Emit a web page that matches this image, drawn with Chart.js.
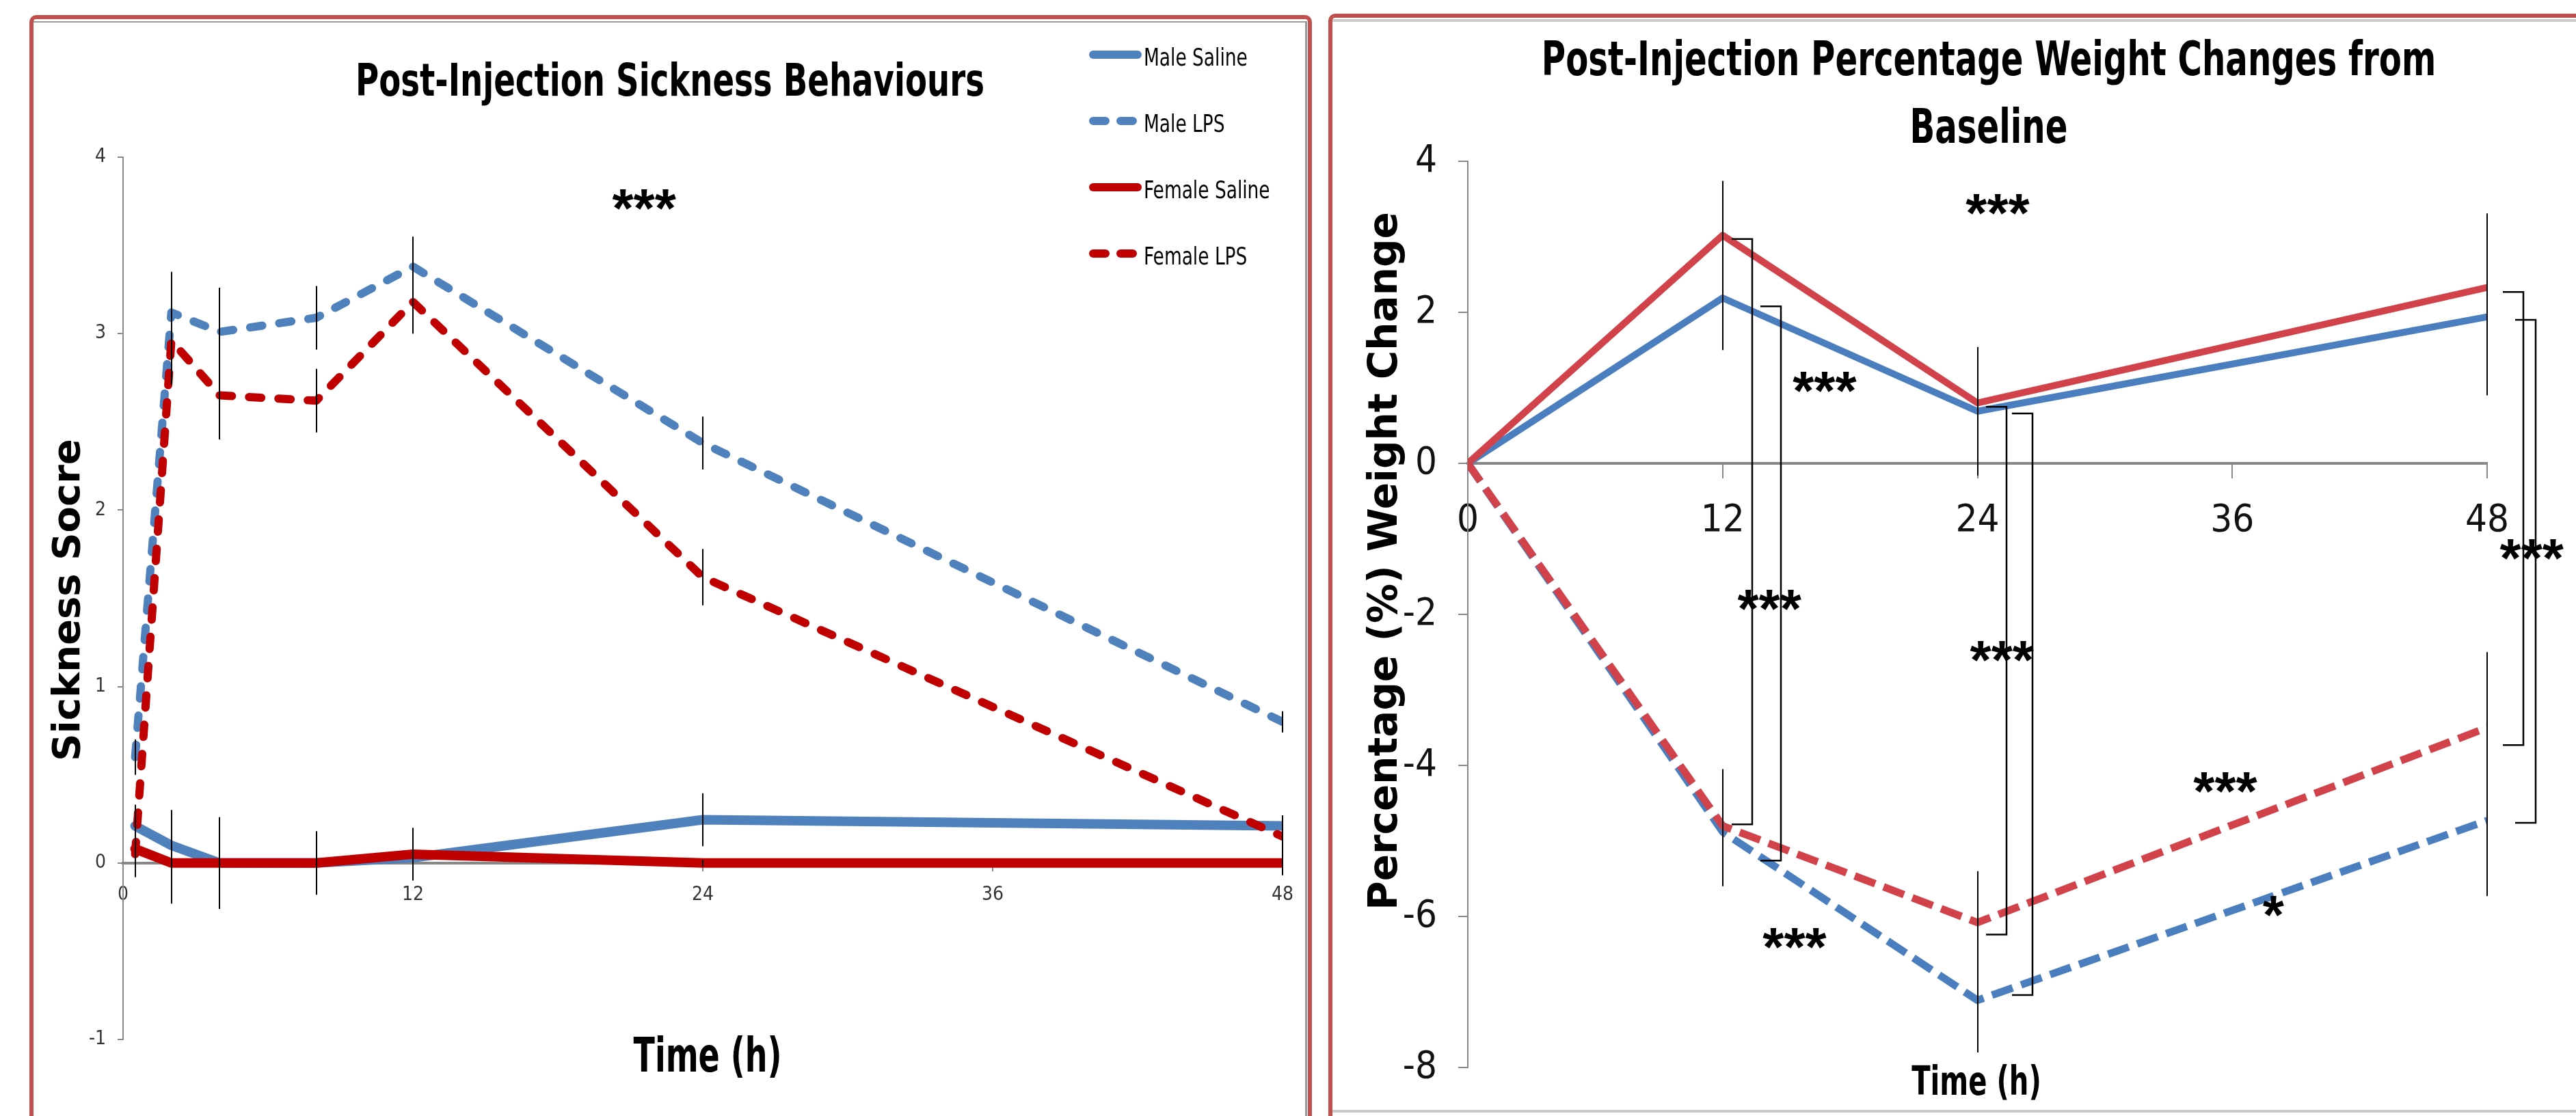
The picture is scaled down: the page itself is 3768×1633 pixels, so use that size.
<!DOCTYPE html>
<html>
<head>
<meta charset="utf-8">
<script src="https://cdn.jsdelivr.net/npm/chart.js@4.4.1/dist/chart.umd.min.js"></script>
<style>
  html, body { margin: 0; padding: 0; background: #fff; }
  body { width: 3768px; height: 1633px; position: relative; overflow: hidden; }
  .marco { position: absolute; box-sizing: border-box; border: 6px solid #c0504d; border-radius: 10px; }
  .linea { position: absolute; background: #9a9a9a; }
  .linea.claro { background: #cacaca; }
  canvas { position: absolute; top: 0; }
</style>
</head>
<body>
<div class="marco" style="left:43px;top:22px;width:1876px;height:1700px"></div>
<div class="linea" style="left:49px;top:31px;width:1862px;height:2px"></div>
<div class="linea" style="left:1909px;top:31px;width:3px;height:1602px"></div>
<div class="marco" style="left:1943px;top:20px;width:1900px;height:1700px"></div>
<div class="linea claro" style="left:1949px;top:28px;width:1819px;height:4px"></div>
<div class="linea claro" style="left:1949px;top:1624px;width:1819px;height:4px"></div>
<canvas id="grafico-sickness" width="1930" height="1633" style="left:0"></canvas>
<canvas id="grafico-peso" width="1838" height="1633" style="left:1930px"></canvas>
<script>
// --- Panel 1: Sickness score (horas tras la inyección) ---
const HORAS_SICK = [0.5, 2, 4, 8, 12, 24, 48];
const MALE_SALINE_SICK = [0.21, 0.10, 0, 0, 0.03, 0.245, 0.21];
const MALE_SALINE_SICK_ERR = [0.12, 0.20, 0.25, 0.17, 0.10, 0.15, 0.06];
const MALE_LPS_SICK = [0.60, 3.12, 3.01, 3.09, 3.38, 2.38, 0.80];
const MALE_LPS_SICK_ERR = [0.10, 0.23, 0.25, 0.18, 0.17, 0.15, 0.06];
const FEMALE_SALINE_SICK = [0.08, 0, 0, 0, 0.05, 0, 0];
const FEMALE_SALINE_SICK_ERR = [0.16, 0.23, 0.26, 0.18, 0.15, 0.02, 0.07];
const FEMALE_LPS_SICK = [0.05, 2.96, 2.65, 2.62, 3.18, 1.62, 0.15];
const FEMALE_LPS_SICK_ERR = [0.10, 0.25, 0.25, 0.18, 0.18, 0.16, 0.10];
const SICK_TICKS_X = [0, 12, 24, 36, 48];
const SICK_STARS = { texto: '***', hora: 21.57, valor: 3.76 };

// --- Panel 2: % cambio de peso ---
const HORAS_PESO = [0, 12, 24, 48];
const MALE_SALINE_W = [0, 2.19, 0.69, 1.94];
const MALE_SALINE_W_ERR = [0, 0.69, 0.85, 1.04];
const FEMALE_SALINE_W = [0, 3.02, 0.80, 2.33];
const FEMALE_SALINE_W_ERR = [0, 0.72, 0.70, 0.98];
const MALE_LPS_W = [0, -4.88, -7.11, -4.73];
const MALE_LPS_W_ERR = [0, 0.72, 0.69, 1.00];
const FEMALE_LPS_W = [0, -4.80, -6.08, -3.50];
const FEMALE_LPS_W_ERR = [0, 0.75, 0.68, 1.00];
const PESO_TICKS_X = [0, 12, 24, 36, 48];

// Corchetes de significancia (hora, valor arriba, valor abajo)
const CORCHETE_HORA = [13.39, 14.75, 25.36, 26.6, 49.7, 50.3];
const CORCHETE_ARRIBA = [2.97, 2.08, 0.75, 0.66, 2.27, 1.90];
const CORCHETE_ABAJO = [-4.78, -5.26, -6.24, -7.04, -3.73, -4.76];

// Asteriscos del panel de peso
const ESTRELLA_TEXTO = ['***', '***', '***', '***', '***', '***', '*', '***'];
const ESTRELLA_HORA = [24.95, 16.8, 14.2, 25.15, 35.67, 15.39, 37.93, 50.1];
const ESTRELLA_VALOR = [3.43, 1.08, -1.81, -2.49, -4.23, -6.29, -5.86, -1.14];

const NARROW = "'Liberation Sans Narrow', 'Arial Narrow', 'DejaVu Sans Condensed', sans-serif";
const WIDE = "'DejaVu Sans', Verdana, sans-serif";
const STAR = "'Liberation Sans', Arial, sans-serif";

const COLORES = {
    azul: '#4f81bd',
    rojo: '#c00000',
    azulPeso: '#4a7ebf',
    rojoPeso: '#d2424a',
    eje: '#888888',
};

function puntos(horas, valores) {
    return horas.map((h, i) => ({ x: h, y: valores[i] }));
}

function serie(label, horas, valores, errores, color, ancho, guiones, orden, remate = 'round') {
    return {
        label,
        data: puntos(horas, valores),
        errores,
        borderColor: color,
        backgroundColor: color,
        borderWidth: ancho,
        borderDash: guiones,
        borderCapStyle: remate,
        borderJoinStyle: 'round',
        pointRadius: 0,
        pointHoverRadius: 0,
        tension: 0,
        fill: false,
        order: orden,
    };
}

/** Texto centrado en su caja de tinta. */
function textoCentrado(ctx, texto, x, y, font) {
    ctx.font = font;
    ctx.textAlign = 'center';
    ctx.textBaseline = 'alphabetic';
    const m = ctx.measureText(texto);
    ctx.fillText(texto, x, y + (m.actualBoundingBoxAscent - m.actualBoundingBoxDescent) / 2);
}

/** Texto con compresión horizontal (imita la tipografía estrecha del original). */
function textoEscalado(ctx, texto, x, y, font, escalaX, align = 'center') {
    ctx.save();
    ctx.translate(x, y);
    ctx.scale(escalaX, 1);
    ctx.font = font;
    ctx.textAlign = align;
    ctx.textBaseline = 'alphabetic';
    ctx.fillText(texto, 0, 0);
    ctx.restore();
}

function textoVertical(ctx, texto, x, y, font) {
    ctx.save();
    ctx.translate(x, y);
    ctx.rotate(-Math.PI / 2);
    ctx.font = font;
    ctx.textAlign = 'center';
    ctx.textBaseline = 'alphabetic';
    ctx.fillText(texto, 0, 0);
    ctx.restore();
}

// Barras de error negras, dibujadas encima de las líneas.
const barrasError = {
    id: 'barrasError',
    afterDatasetsDraw(chart) {
        const { ctx } = chart;
        const y = chart.scales.y;
        ctx.save();
        ctx.strokeStyle = '#000';
        ctx.lineWidth = 2;
        chart.data.datasets.forEach((ds, i) => {
            if (!ds.errores) return;
            chart.getDatasetMeta(i).data.forEach((pt, j) => {
                const err = ds.errores[j];
                if (!err) return;
                const v = ds.data[j].y;
                const x = Math.round(pt.x);
                ctx.beginPath();
                ctx.moveTo(x, y.getPixelForValue(v + err));
                ctx.lineTo(x, y.getPixelForValue(v - err));
                ctx.stroke();
            });
        });
        ctx.restore();
    },
};

function ejeY(min, max, paso, fontSize, tickLen, pad, color) {
    return {
        type: 'linear',
        position: 'left',
        min,
        max,
        afterFit: (s) => { s.width = 100; },
        ticks: { stepSize: paso, color, padding: pad, font: { family: NARROW, size: fontSize } },
        grid: { drawOnChartArea: false, drawTicks: true, tickLength: tickLen, color: COLORES.eje, lineWidth: 2 },
        border: { display: true, color: COLORES.eje, width: 2 },
    };
}

function ejeX(ticksX, fontSize, tickLen, pad, color) {
    return {
        type: 'linear',
        position: { y: 0 },
        min: ticksX[0],
        max: ticksX[ticksX.length - 1],
        afterBuildTicks: (s) => { s.ticks = ticksX.map((v) => ({ value: v })); },
        ticks: { color, padding: pad, maxRotation: 0, font: { family: NARROW, size: fontSize } },
        grid: { drawOnChartArea: false, drawTicks: true, tickLength: tickLen, color: COLORES.eje, lineWidth: 2 },
        border: { display: true, color: COLORES.eje, width: 4 },
    };
}

const BASE = {
    responsive: false,
    animation: false,
    devicePixelRatio: 1,
    plugins: { legend: { display: false }, tooltip: { enabled: false }, title: { display: false } },
};

// 1. Post-Injection Sickness Behaviours
const sickDatasets = [
    serie('Male Saline', HORAS_SICK, MALE_SALINE_SICK, MALE_SALINE_SICK_ERR, COLORES.azul, 14, [], 3),
    serie('Male LPS', HORAS_SICK, MALE_LPS_SICK, MALE_LPS_SICK_ERR, COLORES.azul, 12, [18, 25], 2),
    serie('Female Saline', HORAS_SICK, FEMALE_SALINE_SICK, FEMALE_SALINE_SICK_ERR, COLORES.rojo, 14, [], 1),
    serie('Female LPS', HORAS_SICK, FEMALE_LPS_SICK, FEMALE_LPS_SICK_ERR, COLORES.rojo, 12, [18, 25], 0),
];

const textosSick = {
    id: 'textosSick',
    afterDraw(chart) {
        const { ctx } = chart;
        ctx.save();
        ctx.fillStyle = '#000';
        textoEscalado(ctx, 'Post-Injection Sickness Behaviours', 980, 140, `bold 66px ${NARROW}`, 0.785);
        textoEscalado(ctx, 'Time (h)', 1035, 1568, `bold 70px ${NARROW}`, 0.73);
        textoVertical(ctx, 'Sickness Socre', 116, 878, `bold 56px ${WIDE}`);
        const sx = chart.scales.x.getPixelForValue(SICK_STARS.hora);
        const sy = chart.scales.y.getPixelForValue(SICK_STARS.valor);
        textoCentrado(ctx, SICK_STARS.texto, sx, sy, `bold 80px ${STAR}`);

        // Leyenda vertical en la esquina superior derecha
        chart.data.datasets.forEach((ds, k) => {
            const y = 80 + k * 97;
            ctx.strokeStyle = ds.borderColor;
            ctx.lineWidth = 12;
            ctx.lineCap = 'round';
            const rayado = ds.borderDash.length > 0;
            ctx.setLineDash(rayado ? [18, 22] : []);
            ctx.beginPath();
            ctx.moveTo(1599, y);
            ctx.lineTo(rayado ? 1657 : 1664, y);
            ctx.stroke();
            ctx.setLineDash([]);
            ctx.fillStyle = '#000';
            textoEscalado(ctx, ds.label, 1673, y + 16, `35px ${NARROW}`, 0.84, 'left');
        });
        ctx.restore();
    },
};

new Chart(document.getElementById('grafico-sickness').getContext('2d'), {
    type: 'line',
    data: { datasets: sickDatasets },
    options: {
        ...BASE,
        layout: { padding: { left: 80, right: 54, top: 230, bottom: 112 } },
        scales: {
            x: ejeX(SICK_TICKS_X, 28, 10, 20, '#333'),
            y: ejeY(-1, 4, 1, 28, 8, 17, '#333'),
        },
    },
    plugins: [barrasError, textosSick],
});

// 2. Post-Injection Percentage Weight Changes from Baseline
const pesoDatasets = [
    serie('Male Saline', HORAS_PESO, MALE_SALINE_W, MALE_SALINE_W_ERR, COLORES.azulPeso, 10, [], 3),
    serie('Female Saline', HORAS_PESO, FEMALE_SALINE_W, FEMALE_SALINE_W_ERR, COLORES.rojoPeso, 10, [], 2),
    serie('Male LPS', HORAS_PESO, MALE_LPS_W, MALE_LPS_W_ERR, COLORES.azulPeso, 11, [32, 13], 1, 'butt'),
    serie('Female LPS', HORAS_PESO, FEMALE_LPS_W, FEMALE_LPS_W_ERR, COLORES.rojoPeso, 11, [32, 13], 0, 'butt'),
];

const textosPeso = {
    id: 'textosPeso',
    afterDraw(chart) {
        const { ctx } = chart;
        const { x, y } = chart.scales;
        ctx.save();
        ctx.fillStyle = '#000';
        textoEscalado(ctx, 'Post-Injection Percentage Weight Changes from', 979, 110, `bold 70px ${NARROW}`, 0.766);
        textoEscalado(ctx, 'Baseline', 979, 209, `bold 70px ${NARROW}`, 0.766);
        textoEscalado(ctx, 'Time (h)', 961, 1602, `bold 58px ${NARROW}`, 0.77);
        textoVertical(ctx, 'Percentage (%) Weight Change', 113, 821, `bold 58px ${WIDE}`);

        // Corchetes "]" entre grupos
        ctx.strokeStyle = '#000';
        ctx.lineWidth = 2.5;
        CORCHETE_HORA.forEach((h, i) => {
            const bx = Math.round(x.getPixelForValue(h));
            const top = y.getPixelForValue(CORCHETE_ARRIBA[i]);
            const bot = y.getPixelForValue(CORCHETE_ABAJO[i]);
            ctx.beginPath();
            ctx.moveTo(bx - 30, top);
            ctx.lineTo(bx, top);
            ctx.lineTo(bx, bot);
            ctx.lineTo(bx - 30, bot);
            ctx.stroke();
        });

        ESTRELLA_TEXTO.forEach((t, i) => {
            textoCentrado(ctx, t, x.getPixelForValue(ESTRELLA_HORA[i]),
                y.getPixelForValue(ESTRELLA_VALOR[i]), `bold 80px ${STAR}`);
        });
        ctx.restore();
    },
};

new Chart(document.getElementById('grafico-peso').getContext('2d'), {
    type: 'line',
    data: { datasets: pesoDatasets },
    options: {
        ...BASE,
        layout: { padding: { left: 117, right: 130, top: 236, bottom: 71 } },
        scales: {
            x: ejeX(PESO_TICKS_X, 56, 20, 31, '#111'),
            y: ejeY(-8, 4, 2, 56, 14, 31, '#111'),
        },
    },
    plugins: [barrasError, textosPeso],
});
</script>
</body>
</html>
